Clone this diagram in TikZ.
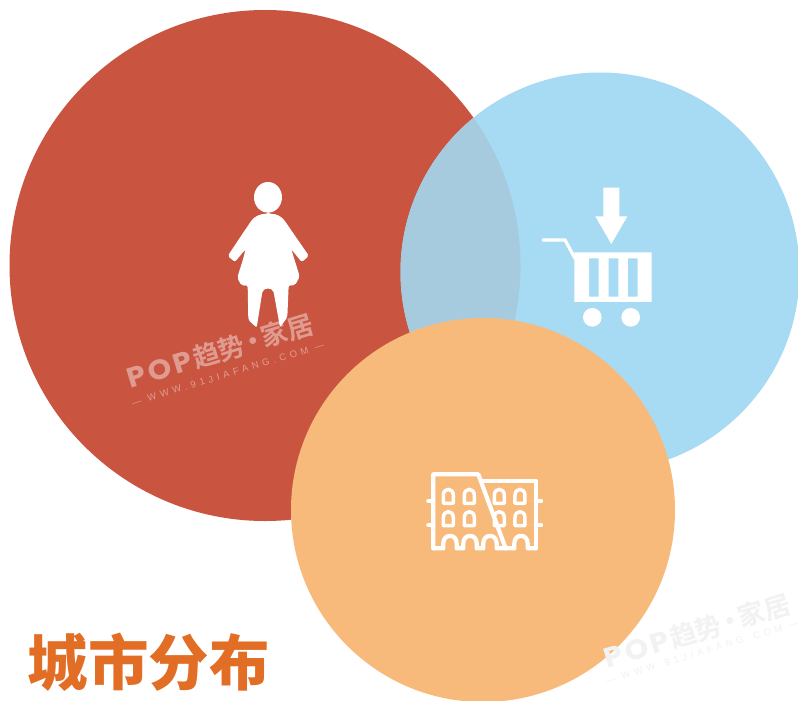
\documentclass[tikz,border=0pt]{standalone}
\usepackage{fontspec}
\setmainfont{Liberation Sans}
\newfontfamily\cjkbold{Noto Sans CJK SC Black}
\newfontfamily\cjkmed{Noto Sans CJK SC Bold}
\newfontfamily\popfont[LetterSpace=10]{Poppins}
\newfontfamily\subfont[LetterSpace=42]{Liberation Sans}
\definecolor{redc}{HTML}{C95440}
\definecolor{bluec}{HTML}{A7DAF3}
\definecolor{overc}{HTML}{A6CBDF}
\definecolor{orangec}{HTML}{F8BA7B}
\definecolor{titlec}{HTML}{E26E26}
\newcommand{\wmtext}{{\popfont\bfseries\scalebox{1.13}[1.05]{POP}}\kern2pt{\cjkmed 趋势\kern-4pt·\kern-4pt家居}}
\tikzset{
  wmmain/.style={inner sep=0pt,rotate=16.9,font=\fontsize{26.5}{26.5}\selectfont},
  wmsub/.style={inner sep=0pt,rotate=16.9,font=\fontsize{9.5}{9.5}\selectfont},
  zoomed/.style={x=0.3333pt,y=-0.3333pt},
  iconline/.style={draw=white,line width=4.2pt,line join=round,line cap=round},
  winline/.style={draw=white,line width=3.5pt,line join=round},
  win/.pic={\draw[winline] (-15,20) -- (-15,-4) .. controls (-15,-28) and (15,-28) .. (15,-4) -- (15,20) -- cycle;}
}
\begin{document}
\begin{tikzpicture}[x=1pt,y=-1pt]
\useasboundingbox (0,0) rectangle (798,701);
\clip (0,0) rectangle (798,701);
\fill[white] (0,0) rectangle (798,701);
% discs
\fill[redc] (265,265.5) circle[radius=255.5pt];
\fill[bluec] (600,272) circle[radius=199.5pt];
\begin{scope}
  \clip (265,265.5) circle[radius=255.5pt];
  \fill[overc] (600,272) circle[radius=199.5pt];
\end{scope}
% watermark on red
\node[wmmain,text=white,opacity=.42] (wma) at (220,351) {\wmtext};
\node[wmsub,text=white,opacity=.42] (wmb) at (228,374) {{\subfont — WWW.91JIAFANG.COM —}};
\fill[orangec] (483,510) circle[radius=192pt];
% person
\begin{scope}[shift={(200,170)},zoomed]
  \fill[white] (204,82) ellipse[x radius=42,y radius=46];
  \fill[white,rounded corners=2pt] (205,131) .. controls (180,131) and (162,140) .. (150,158) -- (83,258) -- (105,276) -- (136,238)
    .. controls (130,270) and (118,300) .. (112,325) -- (125,347) -- (143,346) -- (145,450) -- (170,473) -- (186,372)
    .. controls (190,352) and (218,352) .. (222,372) -- (240,472) -- (262,442) -- (266,346) -- (285,346) -- (299,320)
    .. controls (292,295) and (282,265) .. (274,238) -- (305,276) -- (327,258) -- (258,158) .. controls (246,140) and (230,131) .. (205,131) -- cycle;
\end{scope}
% cart
\begin{scope}[shift={(530,175)},zoomed]
  \fill[white] (220,38) -- (268,38) -- (268,124) -- (292,124) -- (244,207) -- (196,124) -- (220,124) -- cycle;
  \draw[white,line width=3.2pt,line join=miter] (36,195) -- (105,195) -- (136,252);
  \fill[white,even odd rule] (133,232) rectangle (365,381)
     (177,250) rectangle (206,365) (236,250) rectangle (265,365) (294,250) rectangle (323,365);
  \fill[white] (187,427) circle[radius=28];
  \fill[white] (302,427) circle[radius=28];
\end{scope}
% colosseum
\begin{scope}[shift={(415,465)},zoomed]
  \draw[iconline] (55,250) -- (55,28) -- (190,28) -- (272,250);
  \draw[iconline] (198,48) -- (362,48) -- (362,250);
  \draw[iconline] (55,250) -- (85,250) -- (85,235) .. controls (85,205) and (125,205) .. (125,235) -- (125,250)
     -- (145,250) -- (145,235) .. controls (145,205) and (185,205) .. (185,235) -- (185,250)
     -- (205,250) -- (205,235) .. controls (205,205) and (245,205) .. (245,235) -- (245,250) -- (298,250)
     -- (298,235) .. controls (298,205) and (338,205) .. (338,235) -- (338,250) -- (362,250);
  \draw[iconline] (40,107) -- (55,107) (40,180) -- (55,180) (362,107) -- (378,107) (362,180) -- (378,180);
  \pic at (100,95) {win};
  \pic at (163,95) {win};
  \pic at (253,95) {win};
  \pic at (315,95) {win};
  \pic at (100,162) {win};
  \pic at (163,162) {win};
  \pic at (253,162) {win};
  \pic at (315,162) {win};
\end{scope}
% faint watermark
\node[wmmain,text=black!5] (wmc) at (697,631) {\wmtext};
\node[wmsub,text=black!5] (wmd) at (702,652) {{\subfont — WWW.91JIAFANG.COM —}};
% title
\node[inner sep=0pt,text=titlec,font=\fontsize{60.5}{60.5}\selectfont] (title) at (148.5,662) {\cjkbold 城市分布};
\end{tikzpicture}
\end{document}
